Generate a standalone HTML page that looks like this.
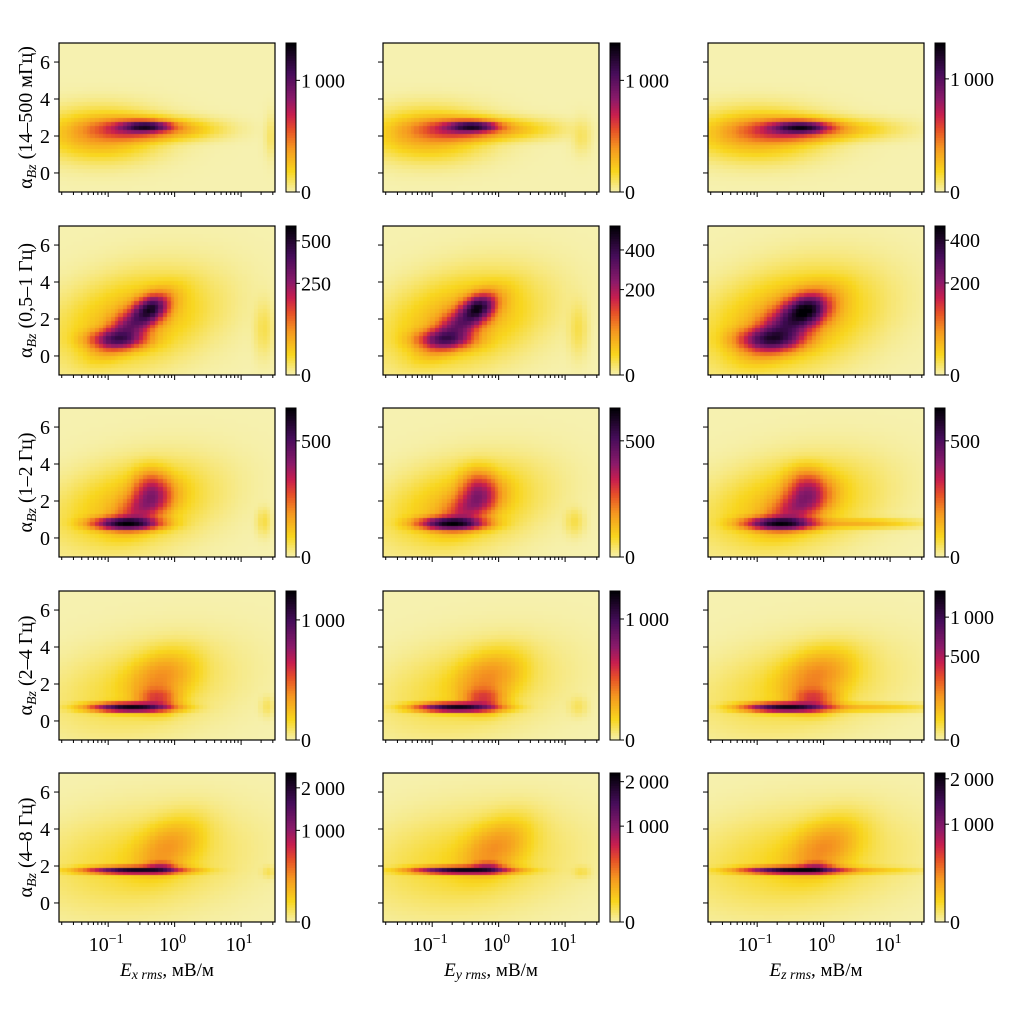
<!DOCTYPE html>
<html><head><meta charset="utf-8">
<style>
html,body{margin:0;padding:0;background:#fff;}
#wrap{position:relative;width:1036px;height:1013px;overflow:hidden;font-family:"Liberation Serif",serif;}
canvas{position:absolute;}
svg{position:absolute;left:0;top:0;}
</style></head>
<body>
<div id="wrap">
<svg id="svg" width="1036" height="1013"></svg>
</div>
<script>
// ---- data ----
// blobs: [center log10(E), center alpha, sigma logE, sigma alpha, correlation, peak count]
const rowLabels = ["(14\u2013500 мГц)", "(0,5\u20131 Гц)", "(1\u20132 Гц)", "(2\u20134 Гц)", "(4\u20138 Гц)"];
const colLetters = ["x", "y", "z"];
const xTickLabels = ["-1", "0", "1"];
const xTickValues = [-1, 0, 1];
const yTickValues = [0, 2, 4, 6];
const cbarMax = [
  [1690, 1690, 1650],
  [605, 550, 480],
  [786, 786, 786],
  [1480, 1460, 1420],
  [2420, 2230, 2150]
];
const cbarTicks = [
  [[0,1000],[0,1000],[0,1000]],
  [[0,250,500],[0,200,400],[0,200,400]],
  [[0,500],[0,500],[0,500]],
  [[0,1000],[0,1000],[0,500,1000]],
  [[0,1000,2000],[0,1000,2000],[0,1000,2000]]
];
const blobs = [
  [
    [[-0.42,2.55,0.22,0.16,0,1150],[-0.62,2.4,0.38,0.33,0,500],[-1.1,2.1,0.45,0.7,0,170],[0.1,2.4,0.35,0.3,0,80],[1.45,2.0,0.05,0.6,0,15]],
    [[-0.38,2.55,0.22,0.16,0,1150],[-0.6,2.4,0.38,0.33,0,480],[-1.05,2.1,0.45,0.7,0,160],[0.15,2.4,0.4,0.3,0,80],[1.25,2.0,0.08,0.5,0,15]],
    [[-0.32,2.5,0.25,0.18,0,1100],[-0.55,2.35,0.42,0.35,0,480],[-1.0,2.1,0.5,0.7,0,160],[0.25,2.4,0.45,0.3,0,80]]
  ],
  [
    [[-0.35,2.6,0.14,0.4,0.3,330],[-0.85,0.9,0.25,0.3,0,260],[-0.6,1.8,0.28,0.8,0.7,300],[-0.6,2.0,0.6,1.3,0.3,45],[1.35,1.5,0.08,0.8,0,8]],
    [[-0.3,2.65,0.14,0.4,0.3,330],[-0.8,0.9,0.25,0.3,0,230],[-0.55,1.8,0.28,0.8,0.7,270],[-0.55,2.0,0.6,1.3,0.3,45],[1.2,1.5,0.08,0.8,0,8]],
    [[-0.25,2.55,0.18,0.45,0.2,280],[-0.8,0.9,0.28,0.35,0,230],[-0.5,1.8,0.32,0.85,0.6,280],[-0.5,2.0,0.65,1.4,0.3,45]]
  ],
  [
    [[-0.72,0.8,0.28,0.2,0,680],[-0.35,2.6,0.16,0.6,0,200],[-0.45,1.7,0.25,0.7,0.5,230],[-0.6,1.8,0.6,1.2,0.3,50],[1.35,0.9,0.06,0.4,0,12]],
    [[-0.7,0.8,0.28,0.2,0,680],[-0.3,2.6,0.16,0.6,0,200],[-0.42,1.7,0.25,0.7,0.5,230],[-0.55,1.8,0.6,1.2,0.3,50],[1.15,0.9,0.08,0.4,0,12]],
    [[-0.65,0.8,0.3,0.2,0,650],[-0.25,2.65,0.18,0.6,0,200],[-0.38,1.7,0.27,0.7,0.5,240],[-0.5,1.8,0.65,1.25,0.3,50],[0.5,0.8,0.5,0.15,0,50]]
  ],
  [
    [[-0.65,0.75,0.33,0.14,0,1350],[-0.25,1.2,0.18,0.4,0,300],[-0.2,2.4,0.3,0.8,0.3,150],[-0.5,1.8,0.7,1.3,0.3,35],[1.4,0.8,0.06,0.3,0,15]],
    [[-0.62,0.75,0.33,0.14,0,1300],[-0.22,1.2,0.18,0.4,0,300],[-0.15,2.4,0.3,0.8,0.3,150],[-0.45,1.8,0.7,1.3,0.3,35],[1.2,0.8,0.08,0.3,0,15]],
    [[-0.55,0.75,0.35,0.14,0,1250],[-0.15,1.2,0.2,0.4,0,300],[-0.1,2.5,0.32,0.8,0.3,160],[-0.4,1.8,0.75,1.3,0.3,35],[0.6,0.75,0.55,0.14,0,70]]
  ],
  [
    [[-0.6,1.8,0.4,0.12,0,2100],[-0.2,1.95,0.15,0.2,0,600],[-0.1,3.0,0.3,0.9,0.4,220],[-0.5,2.3,0.8,1.4,0.2,60],[1.42,1.7,0.06,0.2,0,30]],
    [[-0.55,1.8,0.4,0.12,0,2000],[-0.15,1.95,0.15,0.2,0,550],[-0.05,3.0,0.3,0.9,0.4,220],[-0.45,2.3,0.8,1.4,0.2,60],[1.25,1.7,0.08,0.2,0,30]],
    [[-0.45,1.8,0.42,0.12,0,1950],[-0.1,1.95,0.15,0.2,0,500],[0.0,3.0,0.32,0.9,0.4,220],[-0.4,2.3,0.85,1.4,0.2,60],[0.6,1.8,0.5,0.12,0,80]]
  ]
];
// ---- layout ----
const colX = [59, 383, 708], rowY = [43, 226, 408, 591, 773];
const PW = 216, PH = 149, NX = 54, NY = 38;
const LXMIN = -1.74, LXMAX = 1.51, YMIN = -1.03, YMAX = 7.03;
const GAMMA = 0.55;
const stops = [[0,[246,241,176]],[0.14,[248,214,30]],[0.3,[245,150,32]],[0.42,[230,80,40]],[0.52,[200,30,78]],[0.63,[138,26,106]],[0.8,[70,12,90]],[1,[0,0,4]]];
function cmap(t){t=Math.max(0,Math.min(1,t));for(let i=1;i<stops.length;i++){if(t<=stops[i][0]){const a=stops[i-1],b=stops[i];const f=(t-a[0])/(b[0]-a[0]);return 'rgb('+a[1].map((v,k)=>Math.round(v+(b[1][k]-v)*f)).join(',')+')';}}return 'rgb(0,0,4)';}
const xs = lx => (lx-LXMIN)/(LXMAX-LXMIN)*PW;
const ys = y => (YMAX-y)/(YMAX-YMIN)*PH;
function density(list,lx,y){let s=0;for(const b of list){const u=(lx-b[0])/b[2],v=(y-b[1])/b[3],r=b[4];s+=b[5]*Math.exp(-(u*u-2*r*u*v+v*v)/(2*(1-r*r)));}return s;}
const svg=document.getElementById('svg'),wrap=document.getElementById('wrap');
const NS='http://www.w3.org/2000/svg';
function el(tag,attrs,parent){const e=document.createElementNS(NS,tag);for(const k in attrs)e.setAttribute(k,attrs[k]);(parent||svg).appendChild(e);return e;}
function fmt(v){const s=String(v);return s.length>3?s.slice(0,s.length-3)+'\u2009'+s.slice(-3):s;}
for(let r=0;r<5;r++){for(let c=0;c<3;c++){
  const x0=colX[c],y0=rowY[r],mx=cbarMax[r][c];
  const cv=document.createElement('canvas');cv.width=PW;cv.height=PH;cv.style.left=x0+'px';cv.style.top=y0+'px';
  
  
  wrap.insertBefore(cv,svg);
  const ctx=cv.getContext('2d');
  const dlx=(LXMAX-LXMIN)/NX,dy=(YMAX-YMIN)/NY;
  for(let i=0;i<NX;i++)for(let j=0;j<NY;j++){
    const lx=LXMIN+(i+0.5)*dlx,yv=YMIN+(j+0.5)*dy;
    const v=density(blobs[r][c],lx,yv);
    ctx.fillStyle=cmap(Math.pow(Math.max(0,v)/mx,GAMMA));
    const px=Math.floor(xs(LXMIN+i*dlx)),px2=Math.ceil(xs(LXMIN+(i+1)*dlx));
    const py=Math.floor(ys(YMIN+(j+1)*dy)),py2=Math.ceil(ys(YMIN+j*dy));
    ctx.fillRect(px,py,px2-px,py2-py);
  }
  const g=el('g',{});
  el('rect',{x:x0,y:y0,width:PW,height:PH,fill:'none',stroke:'#000','stroke-width':1.2,},g);
  for(const t of yTickValues){const py=y0+ys(t);el('line',{x1:x0-5,x2:x0,y1:py,y2:py,stroke:'#000','stroke-width':1},g);
    if(c===0){const tx=el('text',{x:x0-9,y:py+7,'text-anchor':'end','font-size':20,},g);tx.textContent=t;}}
  for(let d=-2;d<=1;d++){for(let m=1;m<10;m++){const lx=d+Math.log10(m);if(lx<LXMIN||lx>LXMAX)continue;const px=x0+xs(lx);
    el('line',{x1:px,x2:px,y1:y0+PH,y2:y0+PH+(m===1?5:3),stroke:'#000','stroke-width':1},g);}}
  if(r===4){xTickValues.forEach((t,k)=>{const px=x0+xs(t);const tx=el('text',{x:px-2,y:y0+PH+29,'text-anchor':'middle','font-size':20,},g);
    tx.innerHTML='10<tspan dy="-8" font-size="14">'+(xTickLabels[k]==='-1'?'\u22121':xTickLabels[k])+'</tspan>';});
    const xl=el('text',{x:x0+108,y:y0+PH+54,'text-anchor':'middle','font-size':19,},g);
    xl.innerHTML='<tspan font-style="italic">E</tspan><tspan font-style="italic" font-size="14" dy="3">'+colLetters[c]+' rms</tspan><tspan dy="-3">, мВ/м</tspan>';}
  if(c===0){const yl=el('text',{x:0,y:0,transform:'translate(32,'+(y0+PH/2)+') rotate(-90)','text-anchor':'middle','font-size':20,},g);
    yl.innerHTML='α<tspan font-style="italic" font-size="14" dy="4">Bz</tspan><tspan dy="-4"> '+rowLabels[r]+'</tspan>';}
  const cx=x0+227,cw=10;
  const cb=el('g',{});
  const n=60;for(let k=0;k<n;k++){el('rect',{x:cx,y:y0+PH-(k+1)*PH/n,width:cw,height:PH/n+0.6,fill:cmap((k+0.5)/n)},cb);}
  el('rect',{x:cx,y:y0,width:cw,height:PH,fill:'none',stroke:'#000','stroke-width':1},cb);
  for(const t of cbarTicks[r][c]){const py=y0+PH-Math.pow(t/mx,GAMMA)*PH;el('line',{x1:cx+cw,x2:cx+cw+4,y1:py,y2:py,stroke:'#000','stroke-width':1},cb);
    const tx=el('text',{x:cx+cw+5,y:py+7,'font-size':20,},cb);tx.textContent=fmt(t);}
}}
</script>
</body></html>
